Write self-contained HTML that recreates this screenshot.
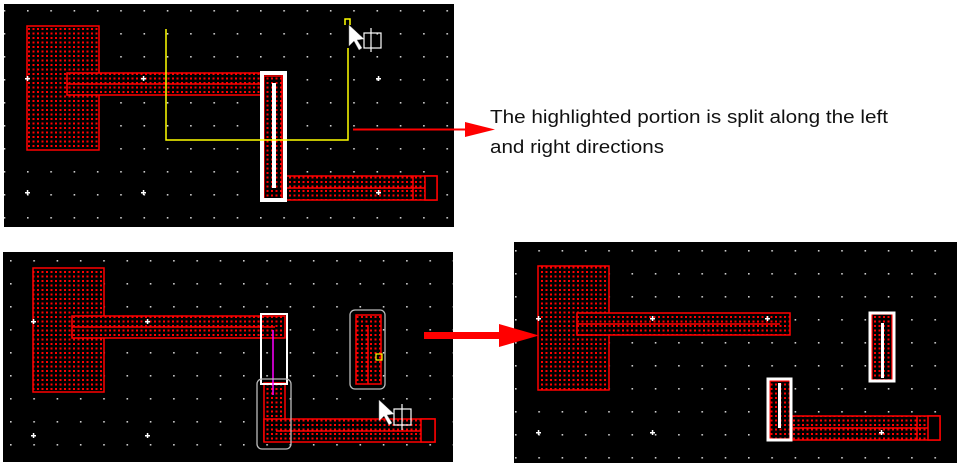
<!DOCTYPE html>
<html><head><meta charset="utf-8"><style>
html,body{margin:0;padding:0;background:#fff;}
svg{display:block;}
</style></head><body>
<svg width="963" height="469" xmlns="http://www.w3.org/2000/svg">
<defs>
<pattern id="h" width="4.5" height="4.5" patternUnits="userSpaceOnUse"><rect width="4.5" height="4.5" fill="#000"/><rect x="1" y="1" width="2" height="2" fill="#f00"/></pattern>
<pattern id="g1" x="27" y="10" width="23.3" height="23" patternUnits="userSpaceOnUse"><rect x="0" y="0" width="1.6" height="1.6" fill="#ccc"/></pattern>
<pattern id="g2" x="10" y="260" width="23.3" height="23" patternUnits="userSpaceOnUse"><rect x="0" y="0" width="1.6" height="1.6" fill="#ccc"/></pattern>
<pattern id="g3" x="515" y="250" width="23.3" height="23" patternUnits="userSpaceOnUse"><rect x="0" y="0" width="1.6" height="1.6" fill="#ccc"/></pattern>
</defs>
<!-- Panel 1 -->
<rect x="4" y="4" width="450" height="223" fill="#000"/>
<rect x="4" y="4" width="450" height="223" fill="url(#g1)"/>
<g stroke="#f00" stroke-width="1.5">
<rect x="27" y="26" width="72" height="124" fill="url(#h)"/>
<rect x="67" y="73" width="215" height="22" fill="url(#h)"/>
<line x1="67" y1="84" x2="270" y2="84"/>
<rect x="264" y="76" width="18" height="123" fill="url(#h)"/>
<rect x="286" y="176" width="151" height="24" fill="url(#h)"/>
<line x1="286" y1="188" x2="425" y2="188"/>
<line x1="413" y1="176" x2="413" y2="200"/>
<rect x="425" y="176" width="12" height="24" fill="#000"/>
</g>
<rect x="262" y="73" width="23" height="127" fill="none" stroke="#fff" stroke-width="4"/>
<rect x="272" y="83" width="4" height="105" fill="#fff"/>
<polyline points="166,29 166,140 348,140 348,48" fill="none" stroke="#ff0" stroke-width="1.5"/>
<polyline points="345,25 345,19 350,19 350,25" fill="none" stroke="#ff0" stroke-width="1.5"/>
<polygon points="349,25 349,46 354,41 359,50 362,48 357,40 364,39" fill="#fff" stroke="#888" stroke-width="0.5"/>
<rect x="364" y="33" width="17" height="15" fill="none" stroke="#fff" stroke-width="1.2"/>
<line x1="371" y1="28" x2="371" y2="52" stroke="#fff" stroke-width="1.2"/>
<g fill="#fff"><rect x="25" y="78" width="5" height="1.5"/><rect x="26.8" y="76" width="1.5" height="5"/><rect x="141" y="78" width="5" height="1.5"/><rect x="142.8" y="76" width="1.5" height="5"/><rect x="376" y="78" width="5" height="1.5"/><rect x="377.8" y="76" width="1.5" height="5"/><rect x="25" y="192" width="5" height="1.5"/><rect x="26.8" y="190" width="1.5" height="5"/><rect x="141" y="192" width="5" height="1.5"/><rect x="142.8" y="190" width="1.5" height="5"/><rect x="376" y="192" width="5" height="1.5"/><rect x="377.8" y="190" width="1.5" height="5"/></g>
<line x1="353" y1="129.5" x2="468" y2="129.5" stroke="#f00" stroke-width="2"/>
<polygon points="465,122 495,129.5 465,137" fill="#f00"/>
<text x="490" y="123" font-family="Liberation Sans, sans-serif" font-size="18" fill="#111" textLength="398" lengthAdjust="spacingAndGlyphs">The highlighted portion is split along the left</text>
<text x="490" y="153" font-family="Liberation Sans, sans-serif" font-size="18" fill="#111" textLength="174" lengthAdjust="spacingAndGlyphs">and right directions</text>
<!-- Panel 2 -->
<rect x="3" y="252" width="450" height="210" fill="#000"/>
<rect x="3" y="252" width="450" height="210" fill="url(#g2)"/>
<g stroke="#f00" stroke-width="1.5">
<rect x="33" y="268" width="71" height="124" fill="url(#h)"/>
<rect x="72" y="316" width="213" height="22" fill="url(#h)"/>
<line x1="72" y1="327" x2="275" y2="327"/>
<rect x="264" y="383" width="21" height="58" fill="url(#h)"/>
<rect x="264" y="419" width="171" height="23" fill="url(#h)"/>
<line x1="276" y1="431" x2="421" y2="431"/>
<rect x="421" y="419" width="14" height="23" fill="#000"/>
<rect x="356" y="315" width="25" height="69" fill="url(#h)"/>
<line x1="368" y1="325" x2="368" y2="384"/>
</g>
<rect x="261" y="314" width="26" height="70" fill="none" stroke="#fff" stroke-width="2"/>
<line x1="273" y1="330" x2="273" y2="395" stroke="#f0f" stroke-width="1.5"/>
<rect x="257" y="379" width="34" height="70" rx="5" fill="none" stroke="#bbb" stroke-width="1.3"/>
<rect x="350" y="310" width="35" height="79" rx="5" fill="none" stroke="#bbb" stroke-width="1.3"/>
<rect x="376" y="354" width="6" height="6" fill="none" stroke="#ff0" stroke-width="1.2"/>
<polygon points="379,400 379,421 384,416 389,425 392,423 387,415 394,414" fill="#fff" stroke="#888" stroke-width="0.5"/>
<rect x="394" y="409" width="17" height="16" fill="none" stroke="#fff" stroke-width="1.2"/>
<line x1="402" y1="404" x2="402" y2="430" stroke="#fff" stroke-width="1.2"/>
<g fill="#fff"><rect x="31" y="321" width="5" height="1.5"/><rect x="32.8" y="319" width="1.5" height="5"/><rect x="145" y="321" width="5" height="1.5"/><rect x="146.8" y="319" width="1.5" height="5"/><rect x="31" y="435" width="5" height="1.5"/><rect x="32.8" y="433" width="1.5" height="5"/><rect x="145" y="435" width="5" height="1.5"/><rect x="146.8" y="433" width="1.5" height="5"/></g>
<!-- Panel 3 -->
<rect x="514" y="242" width="443" height="221" fill="#000"/>
<rect x="514" y="242" width="443" height="221" fill="url(#g3)"/>
<g stroke="#f00" stroke-width="1.5">
<rect x="538" y="266" width="71" height="124" fill="url(#h)"/>
<rect x="577" y="313" width="213" height="22" fill="url(#h)"/>
<line x1="577" y1="324" x2="780" y2="324"/>
<rect x="872" y="314" width="20" height="66" fill="url(#h)"/>
<rect x="770" y="381" width="20" height="58" fill="url(#h)"/>
<rect x="792" y="416" width="148" height="24" fill="url(#h)"/>
<line x1="792" y1="428" x2="928" y2="428"/>
<line x1="917" y1="416" x2="917" y2="440"/>
<rect x="928" y="416" width="12" height="24" fill="#000"/>
</g>
<rect x="870" y="313" width="24" height="68" fill="none" stroke="#fff" stroke-width="3"/>
<rect x="881" y="323" width="3" height="55" fill="#fff"/>
<rect x="768" y="379" width="23" height="61" fill="none" stroke="#fff" stroke-width="3"/>
<rect x="778" y="383" width="3" height="45" fill="#fff"/>
<g fill="#fff"><rect x="536" y="318" width="5" height="1.5"/><rect x="537.8" y="316" width="1.5" height="5"/><rect x="650" y="318" width="5" height="1.5"/><rect x="651.8" y="316" width="1.5" height="5"/><rect x="765" y="318" width="5" height="1.5"/><rect x="766.8" y="316" width="1.5" height="5"/><rect x="536" y="432" width="5" height="1.5"/><rect x="537.8" y="430" width="1.5" height="5"/><rect x="650" y="432" width="5" height="1.5"/><rect x="651.8" y="430" width="1.5" height="5"/><rect x="879" y="432" width="5" height="1.5"/><rect x="880.8" y="430" width="1.5" height="5"/></g>
<!-- Arrow 2 -->
<rect x="424" y="332" width="77" height="7" fill="#f00"/>
<polygon points="499,324 539,335.5 499,347" fill="#f00"/>
</svg>
</body></html>
